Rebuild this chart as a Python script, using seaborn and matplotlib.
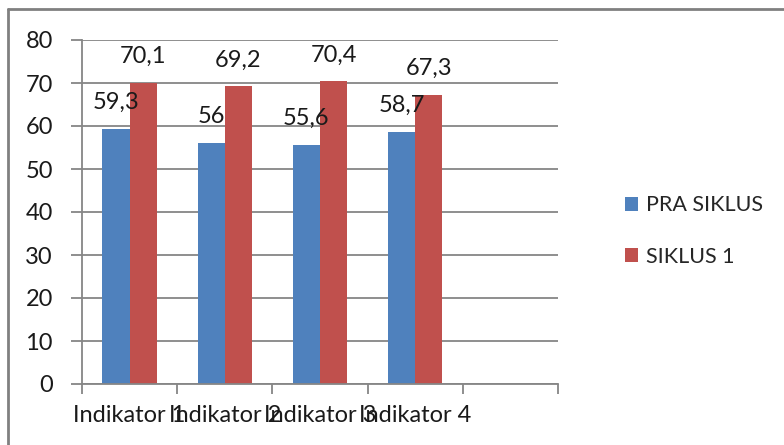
import numpy as np
import pandas as pd
import matplotlib
matplotlib.use("Agg")
import matplotlib.pyplot as plt
import seaborn as sns
from matplotlib.lines import Line2D
from matplotlib.patches import Patch

# data
kategori = ['Indikator 1', 'Indikator 2', 'Indikator 3', 'Indikator 4']
pra_siklus = [59.3, 56, 55.6, 58.7]
siklus_1 = [70.1, 69.2, 70.4, 67.3]
seri = ['PRA SIKLUS', 'SIKLUS 1']
warna = ['#4F81BD', '#C0504D']

datos = pd.DataFrame({
    'kategori': kategori * 2,
    'nilai': pra_siklus + siklus_1,
    'seri': [seri[0]] * 4 + [seri[1]] * 4,
})

sns.set_style('white')
plt.rcParams['font.family'] = ['Lato', 'DejaVu Sans']
fs = 17

fig = plt.figure(figsize=(7.84, 4.45), dpi=100)
ax = fig.add_axes([82 / 784, 1 - 384 / 445, 476 / 784, 344 / 445])

# 5 slots like excel, last one empty
urutan = kategori + [' ']
sns.barplot(data=datos, x='kategori', y='nilai', hue='seri', order=urutan,
            hue_order=seri, palette=warna, width=0.57, saturation=1,
            edgecolor='none', legend=False, ax=ax)

ax.set_xlim(-0.5, 4.5)
ax.set_ylim(0, 80)
ax.set_yticks(range(0, 81, 10))
ax.set_xlabel('')
ax.set_ylabel('')
ax.grid(axis='y', color='#868686', linewidth=1.3)
ax.set_axisbelow(True)
for s in ['top', 'right']:
    ax.spines[s].set_visible(False)
for s in ['left', 'bottom']:
    ax.spines[s].set_color('#868686')
    ax.spines[s].set_linewidth(1.3)

# tick marks on slot borders, labels in the middle (labels overlap, as in the original)
ax.set_xticks(np.arange(-0.5, 5, 1))
ax.set_xticklabels([])
ax.set_xticks(range(4), minor=True)
ax.set_xticklabels(kategori, minor=True, fontsize=fs, color='#1a1a1a')
ax.tick_params(axis='x', which='major', direction='out', length=7, width=1.3,
               color='#868686', bottom=True)
ax.tick_params(axis='x', which='minor', length=0, pad=15)
ax.tick_params(axis='y', direction='out', length=8, width=1.3, color='#868686',
               left=True, labelsize=fs, labelcolor='#1a1a1a', pad=13)

# labels above bars
for cont in ax.containers:
    for bar in cont:
        h = bar.get_height()
        if np.isnan(h):
            continue
        teks = ('%g' % h).replace('.', ',')
        ax.annotate(teks, (bar.get_x() + bar.get_width() / 2, h),
                    xytext=(0, 19), textcoords='offset points',
                    ha='center', va='center', fontsize=fs, color='#1a1a1a')

handles = [Patch(facecolor=c, edgecolor='none') for c in warna]
fig.legend(handles, seri, loc='center left', bbox_to_anchor=(606 / 784, 1 - 231 / 445),
           frameon=False, fontsize=15.5, handlelength=0.6, handleheight=0.6,
           handletextpad=0.35, labelspacing=1.45)

# border
fig.add_artist(Line2D([8 / 784, 1], [1 - 9 / 445] * 2, color='#808080', lw=2))
fig.add_artist(Line2D([8 / 784] * 2, [0, 1 - 9 / 445], color='#808080', lw=2))

fig.savefig('out.png', dpi=100)
